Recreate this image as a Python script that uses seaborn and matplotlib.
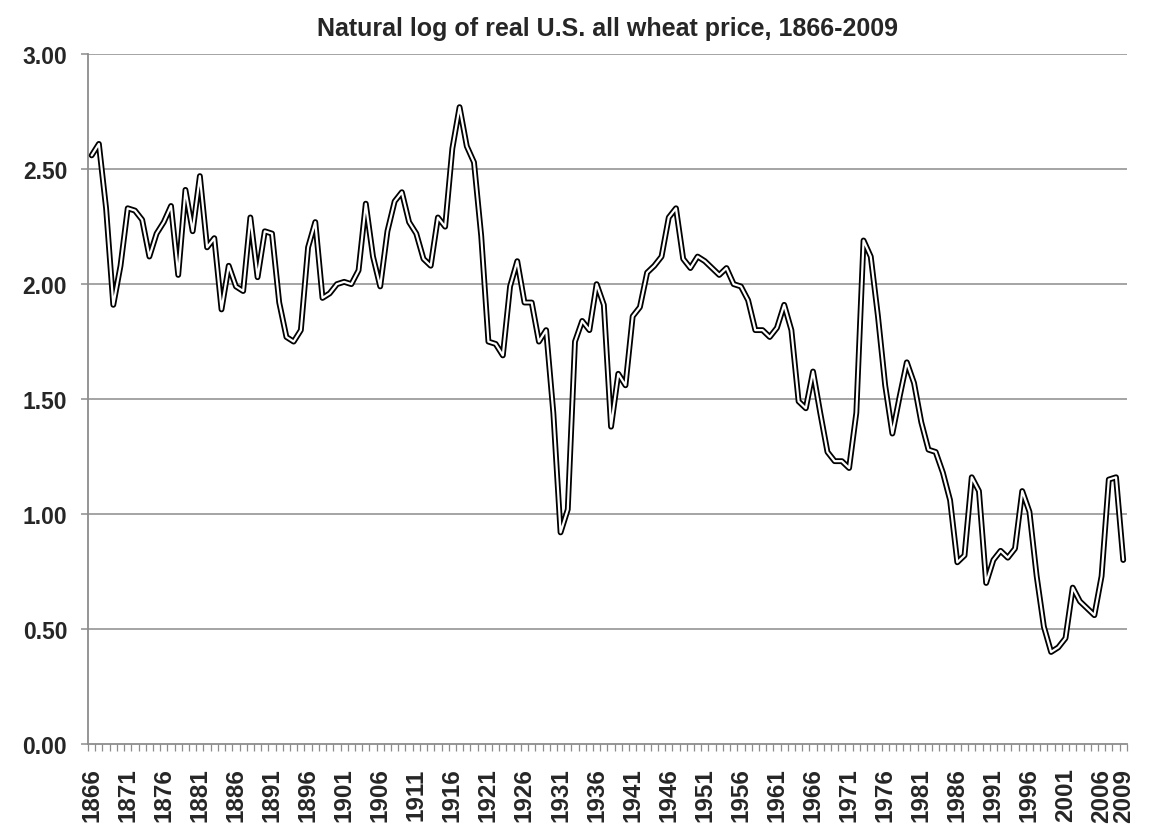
import numpy as np
import pandas as pd
import matplotlib
matplotlib.use("Agg")
import matplotlib.pyplot as plt
import seaborn as sns

# values
years = list(range(1866, 2010))
log_price = [
    2.56, 2.61, 2.33, 1.91, 2.08, 2.33, 2.32, 2.28, 2.12, 2.22,   # 1866-1875
    2.27, 2.34, 2.04, 2.41, 2.23, 2.47, 2.16, 2.20, 1.89, 2.08,   # 1876-1885
    1.99, 1.97, 2.29, 2.03, 2.23, 2.22, 1.92, 1.77, 1.75, 1.80,   # 1886-1895
    2.16, 2.27, 1.94, 1.96, 2.00, 2.01, 2.00, 2.06, 2.35, 2.12,   # 1896-1905
    1.99, 2.23, 2.36, 2.40, 2.27, 2.22, 2.11, 2.08, 2.29, 2.25,   # 1906-1915
    2.59, 2.77, 2.60, 2.53, 2.21, 1.75, 1.74, 1.69, 1.99, 2.10,   # 1916-1925
    1.92, 1.92, 1.75, 1.80, 1.44, 0.92, 1.02, 1.75, 1.84, 1.80,   # 1926-1935
    2.00, 1.91, 1.38, 1.61, 1.56, 1.86, 1.90, 2.05, 2.08, 2.12,   # 1936-1945
    2.29, 2.33, 2.11, 2.07, 2.12, 2.10, 2.07, 2.04, 2.07, 2.00,   # 1946-1955
    1.99, 1.93, 1.80, 1.80, 1.77, 1.81, 1.91, 1.80, 1.49, 1.46,   # 1956-1965
    1.62, 1.44, 1.27, 1.23, 1.23, 1.20, 1.44, 2.19, 2.12, 1.86,   # 1966-1975
    1.56, 1.35, 1.51, 1.66, 1.57, 1.40, 1.28, 1.27, 1.18, 1.06,   # 1976-1985
    0.79, 0.82, 1.16, 1.10, 0.70, 0.80, 0.84, 0.81, 0.85, 1.10,   # 1986-1995
    1.01, 0.73, 0.51, 0.40, 0.42, 0.46, 0.68, 0.62, 0.59, 0.56,   # 1996-2005
    0.73, 1.15, 1.16, 0.80,                                       # 2006-2009
]
tick_years = list(range(1866, 2007, 5)) + [2009]
y_ticks = [0.0, 0.5, 1.0, 1.5, 2.0, 2.5, 3.0]

df = pd.DataFrame({"year": years, "value": log_price})

sns.set_style("white")
plt.rcParams["font.family"] = ["Liberation Sans", "DejaVu Sans"]
plt.rcParams["font.weight"] = "bold"

fig = plt.figure(figsize=(11.51, 8.37), dpi=100)
ax = fig.add_axes([0.0765, 0.110, 0.9025, 0.824])

grid_col = "#8c8c8c"
for yv in y_ticks[1:]:
    ax.axhline(yv, color=grid_col, lw=1.1, zorder=0)

# double line: thick black underneath, thin white on top
sns.lineplot(data=df, x="year", y="value", ax=ax, color="black", lw=4.2,
             zorder=3, solid_joinstyle="round", solid_capstyle="round")
sns.lineplot(data=df, x="year", y="value", ax=ax, color="white", lw=1.6,
             zorder=4, solid_joinstyle="round", solid_capstyle="round")

ax.set_xlim(years[0] - 0.5, years[-1] + 0.5)
ax.set_ylim(0, 3)
ax.set_yticks(y_ticks)
ax.set_yticklabels([f"{v:.2f}" for v in y_ticks], fontsize=16.5, fontweight="bold")
ax.set_xticks(tick_years)
ax.set_xticklabels([str(y) for y in tick_years], rotation=90,
                   fontsize=17.5, fontweight="bold")
ax.set_xticks(np.arange(years[0] - 0.5, years[-1] + 1.0, 1.0), minor=True)
ax.tick_params(axis="x", which="major", length=0, pad=17)
ax.tick_params(axis="x", which="minor", length=5, width=0.9, color=grid_col,
               direction="out", bottom=True)
ax.tick_params(axis="y", which="major", length=5, width=1.1, color=grid_col,
               direction="out", left=True, pad=10)
ax.set_xlabel("")
ax.set_ylabel("")

for side in ["top", "right"]:
    ax.spines[side].set_visible(False)
for side in ["left", "bottom"]:
    ax.spines[side].set_color(grid_col)
    ax.spines[side].set_linewidth(1.3)

ax.set_title("Natural log of real U.S. all wheat price, 1866-2009",
             fontsize=18, fontweight="bold", pad=14)

fig.savefig("out.png", dpi=100)
